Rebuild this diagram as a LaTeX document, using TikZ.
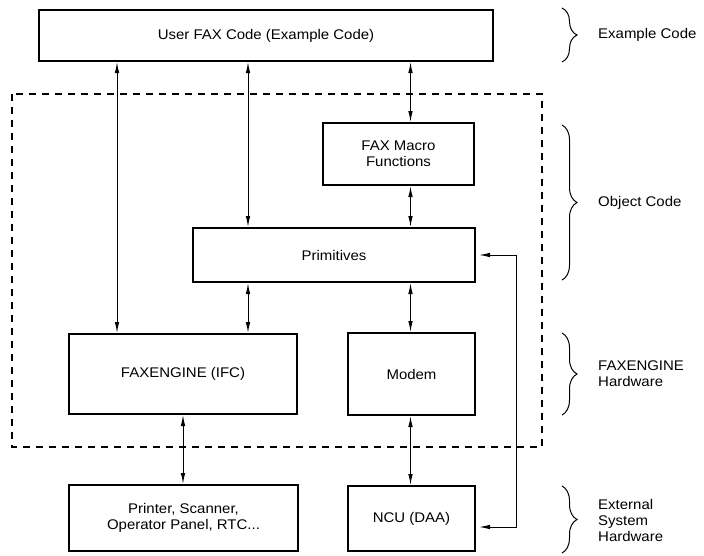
\documentclass[tikz,border=0pt]{standalone}
\usepackage{fontspec}
\setmainfont[FakeStretch=1.07]{Liberation Sans}
\usetikzlibrary{arrows.meta,decorations.pathreplacing,calc}
\begin{document}
\begin{tikzpicture}[x=1pt,y=-1pt,
  every node/.style={font=\fontsize{14}{16}\selectfont},
  bx/.style={draw, line width=2.4pt, inner sep=0pt, align=center},
  lbl/.style={anchor=west, inner sep=0pt, align=left},
  dbl/.style={{Latex[length=11pt,width=4.5pt]}-{Latex[length=11pt,width=4.5pt]}, line width=1pt},
  brc/.style={decorate, decoration={brace, amplitude=15pt}, line width=1pt},
  dsh/.style={line width=2pt, dash pattern=on 7pt off 6pt}]
\useasboundingbox (0,0) rectangle (704,555);
% boxes
\node[bx, minimum width=453.6pt, minimum height=50.6pt] (top) at (266,35.5) {User FAX Code (Example Code)};
\node[bx, minimum width=150.6pt, minimum height=61.6pt] (macro) at (398.5,154) {FAX Macro\\Functions};
\node[bx, minimum width=281.6pt, minimum height=53.6pt] (prim) at (334,255) {Primitives};
\node[bx, minimum width=227.6pt, minimum height=79.6pt] (fe) at (183,374) {FAXENGINE (IFC)};
\node[bx, minimum width=126.6pt, minimum height=81.6pt] (modem) at (411.5,374) {Modem};
\node[bx, minimum width=228.6pt, minimum height=65.6pt] (printer) at (183.5,518) {Printer, Scanner,\\Operator Panel, RTC...};
\node[bx, minimum width=126.6pt, minimum height=64.6pt] (ncu) at (411.5,518.5) {NCU (DAA)};
% dashed region
\draw[dsh] (12,94) rectangle (542,447);
% columns
\coordinate (c1) at (117,0);
\coordinate (c2) at (248,0);
\coordinate (c3) at (410.5,0);
\coordinate (c4) at (183,0);
\coordinate (fb) at (516,527);
% connectors
\draw[dbl] (top.south -| c1) -- (fe.north -| c1);
\draw[dbl] (top.south -| c2) -- (prim.north -| c2);
\draw[dbl] (top.south -| c3) -- (macro.north -| c3);
\draw[dbl] (macro.south -| c3) -- (prim.north -| c3);
\draw[dbl] (prim.south -| c2) -- (fe.north -| c2);
\draw[dbl] (prim.south -| c3) -- (modem.north -| c3);
\draw[dbl] (fe.south -| c4) -- (printer.north -| c4);
\draw[dbl] (modem.south -| c3) -- (ncu.north -| c3);
\draw[dbl, shorten <=3pt, shorten >=3pt] (prim.east) -| (fb) -- (ncu.east |- fb);
% braces
\draw[brc] (562,8) -- (562,62);
\draw[brc] (562,125) -- (562,280);
\draw[brc] (562,333) -- (562,415);
\draw[brc] (562,486) -- (562,553);
% labels
\node[lbl] (l1) at (598,35) {Example Code};
\node[lbl] (l2) at (598,203) {Object Code};
\node[lbl] (l3) at (598,374) {FAXENGINE\\Hardware};
\node[lbl] (l4) at (598,520) {External\\System\\Hardware};
\end{tikzpicture}
\end{document}
